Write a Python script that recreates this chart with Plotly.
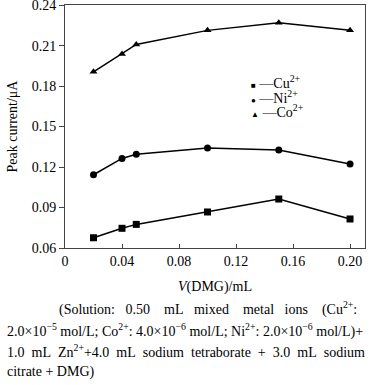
import plotly.graph_objects as go

dmg_ml = [0.02, 0.04, 0.05, 0.10, 0.15, 0.20]
cu = [0.0676, 0.0746, 0.0775, 0.0867, 0.0963, 0.0815]
ni = [0.1143, 0.1264, 0.1294, 0.1341, 0.1326, 0.1222]
co = [0.1906, 0.2037, 0.2109, 0.2213, 0.2269, 0.2213]
series_names = ["Cu<sup>2+</sup>", "Ni<sup>2+</sup>", "Co<sup>2+</sup>"]
symbols = ["square", "circle", "triangle-up"]
legend_glyphs = ["\u25a0", "\u25cf", "\u25b2"]
x_ticks = [0, 0.04, 0.08, 0.12, 0.16, 0.20]
x_tick_text = ["0", "0.04", "0.08", "0.12", "0.16", "0.20"]
y_ticks = [0.06, 0.09, 0.12, 0.15, 0.18, 0.21, 0.24]
y_tick_text = ["0.06", "0.09", "0.12", "0.15", "0.18", "0.21", "0.24"]

FONT = "Liberation Serif, Times New Roman, serif"
L, R, T, B = 65, 365, 5, 248
W, H = 374, 385

def px_x(xp):
    return (xp - L) / (R - L)

def px_y(yp):
    return 1 - (yp - T) / (B - T)

fig = go.Figure()
for vals, sym in zip([cu, ni, co], symbols):
    fig.add_trace(go.Scatter(x=dmg_ml, y=vals, mode="lines+markers", showlegend=False,
                             line=dict(color="black", width=1.5),
                             marker=dict(symbol=sym, size=7, color="black")))

fig.update_layout(
    width=W, height=H,
    margin=dict(l=L, r=W - R, t=T, b=H - B, autoexpand=False),
    plot_bgcolor="white", paper_bgcolor="white",
    font=dict(family=FONT, size=14, color="black"),
    showlegend=False,
    xaxis=dict(range=[0, 0.2105], tickvals=x_ticks, ticktext=x_tick_text,
               ticks="inside", ticklen=4, showgrid=False, zeroline=False,
               showline=True, linecolor="#444", linewidth=1, mirror=True,
               automargin=False, ticklabeloverflow="allow",
               title=dict(text="<i>V</i>(DMG)/mL", font=dict(size=14), standoff=13)),
    yaxis=dict(range=[0.06, 0.2401], tickvals=y_ticks, ticktext=y_tick_text,
               ticks="outside", ticklen=5, tickcolor="#444", showgrid=False, zeroline=False,
               showline=True, linecolor="#444", linewidth=1, mirror=True,
               automargin=False, ticklabeloverflow="allow",
               title=dict(text="Peak current/\u03bcA", font=dict(size=14), standoff=10)),
)

legend_y = [82, 96.5, 111]
for glyph, name, yp in zip(legend_glyphs, series_names, legend_y):
    fig.add_annotation(text=f"<span style='font-size:8px'>{glyph}</span> \u2014{name}",
                       xref="paper", yref="paper", showarrow=False,
                       x=px_x(249), y=px_y(yp), xanchor="left", yanchor="middle",
                       font=dict(size=14, family=FONT))

caption_lines = [
    "(Solution:&nbsp;&nbsp;&nbsp;0.50&nbsp;&nbsp;&nbsp;&nbsp;mL&nbsp;&nbsp;&nbsp;mixed&nbsp;&nbsp;&nbsp;&nbsp;metal&nbsp;&nbsp;&nbsp;ions&nbsp;&nbsp;&nbsp;&nbsp;(Cu<sup>2+</sup>:",
    "2.0×10<sup>\u22125</sup> mol/L; Co<sup>2+</sup>: 4.0×10<sup>\u22126</sup> mol/L; Ni<sup>2+</sup>: 2.0×10<sup>\u22126</sup> mol/L)+",
    "1.0&nbsp;&nbsp;mL&nbsp;&nbsp;Zn<sup>2+</sup>+4.0&nbsp;&nbsp;mL&nbsp;&nbsp;sodium&nbsp;&nbsp;tetraborate&nbsp;&nbsp;+&nbsp;&nbsp;3.0&nbsp;&nbsp;mL&nbsp;&nbsp;sodium",
    "citrate + DMG)",
]
caption_x = [57, 5, 5, 5]
caption_y = [308, 330, 351, 372]
for txt, xp, yp in zip(caption_lines, caption_x, caption_y):
    fig.add_annotation(text=txt, xref="paper", yref="paper", showarrow=False,
                       x=px_x(xp), y=px_y(yp),
                       xanchor="left", yanchor="middle", align="left",
                       font=dict(size=14, family=FONT))

fig.write_html("out.html", config={"displayModeBar": False},
               post_script="document.body.style.margin='0';")
